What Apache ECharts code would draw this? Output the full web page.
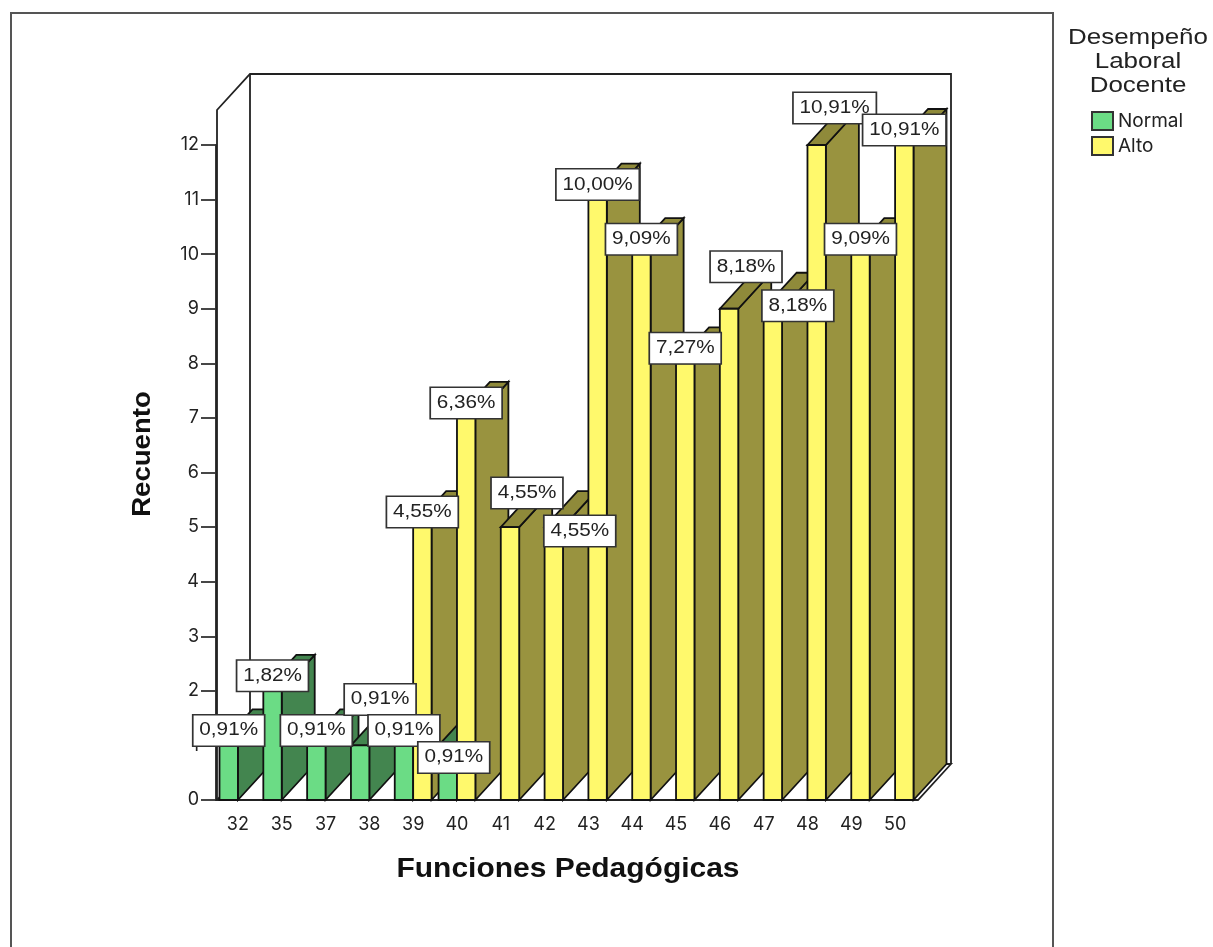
<!DOCTYPE html>
<html>
<head>
<meta charset="utf-8">
<title>Funciones Pedagógicas</title>
<style>
  html, body { margin: 0; padding: 0; background: #fff; }
  #main { width: 1213px; height: 947px; }
</style>
<script src="https://cdn.jsdelivr.net/npm/echarts@6/dist/echarts.min.js"></script>
</head>
<body>
<div id="main"></div>
<script>
const categories = ['32', '35', '37', '38', '39', '40', '41', '42', '43', '44', '45', '46', '47', '48', '49', '50'];
const normalValues = [1, 2, 1, 1, 1, 1, null, null, null, null, null, null, null, null, null, null];
const altoValues = [null, null, null, null, 5, 7, 5, 5, 11, 10, 8, 9, 9, 12, 10, 12];
const normalPct = ['0,91%', '1,82%', '0,91%', '0,91%', '0,91%', '0,91%', '', '', '', '', '', '', '', '', '', ''];
const altoPct = ['', '', '', '', '4,55%', '6,36%', '4,55%', '4,55%', '10,00%', '9,09%', '7,27%', '8,18%', '8,18%', '10,91%', '9,09%', '10,91%'];

// the original moves some labels so they don't collide, [dx, dy] in px
const normalNudge = { 3: [20, -31], 5: [6, 27] };
const altoNudge = { 6: [17, -19], 7: [26, 19], 11: [17, -27], 12: [25, 12], 13: [18, -22] };

const DX = 33, DY = -36;
const FONT = '"Liberation Sans", Arial, sans-serif';
const TICK_FONT = 'Inter, "Liberation Sans", sans-serif';

function barRenderer(seriesPos, pct, nudge, front, side, top) {
  return function (params, api) {
    const i = api.value(0), v = api.value(1);
    const base = api.coord([i, 0]);
    const tip = api.coord([i, v]);
    const w = api.size([1, 0])[0] * 0.42;
    const x0 = seriesPos === 0 ? base[0] - w : base[0];
    const x1 = x0 + w;
    const z = 10 + i * 3 + seriesPos;
    const line = { stroke: '#111', lineWidth: 1.8 };
    const n = nudge[i] || [0, 0];
    return {
      type: 'group',
      children: [
        {
          type: 'polygon', z2: z,
          shape: { points: [[x1, base[1]], [x1 + DX, base[1] + DY], [x1 + DX, tip[1] + DY], [x1, tip[1]]] },
          style: Object.assign({ fill: side }, line)
        },
        {
          type: 'polygon', z2: z,
          shape: { points: [[x0, tip[1]], [x0 + DX, tip[1] + DY], [x1 + DX, tip[1] + DY], [x1, tip[1]]] },
          style: Object.assign({ fill: top }, line)
        },
        {
          type: 'rect', z2: z,
          shape: { x: x0, y: tip[1], width: w, height: base[1] - tip[1] },
          style: Object.assign({ fill: front }, line)
        },
        {
          type: 'text', z2: 500 + i,
          x: (x0 + x1) / 2 + n[0], y: tip[1] - 15 + n[1],
          scaleX: 1.15,
          style: {
            text: pct[i], fill: '#222', font: '18px ' + FONT,
            align: 'center', verticalAlign: 'middle',
            backgroundColor: '#fff', borderColor: '#333', borderWidth: 1.5,
            padding: [6, 5, 6, 5]
          }
        }
      ]
    };
  };
}

function wallRenderer(params, api) {
  const fl = api.coord([0, 0]);
  const h = api.size([1, 0])[0];
  const left = fl[0] - h / 2 + 1;
  const right = left + h * categories.length;
  const floor = fl[1];
  const tick12 = api.coord([0, 12])[1];
  const frontTop = tick12 - 35;
  const backTop = frontTop + DY;
  const s = { stroke: '#222', lineWidth: 1.8, fill: null };
  return {
    type: 'group',
    children: [
      { type: 'polyline', z2: 1, shape: { points: [[left, floor], [left, frontTop], [left + DX, backTop], [right + DX, backTop], [right + DX, floor + DY]] }, style: s },
      { type: 'polyline', z2: 1, shape: { points: [[left + DX, backTop], [left + DX, floor + DY], [right + DX, floor + DY], [right, floor], [left, floor], [left + DX, floor + DY]] }, style: s }
    ]
  };
}

const chart = echarts.init(document.getElementById('main'));
chart.setOption({
  backgroundColor: '#fff',
  animation: false,
  grid: { left: 216, right: 296, top: 145, bottom: 147 },
  legend: {
    data: ['Normal', 'Alto'],
    orient: 'vertical', left: 1086, top: 106,
    itemWidth: 21, itemHeight: 18, itemGap: 5, icon: 'rect',
    selectedMode: false,
    textStyle: { fontFamily: TICK_FONT, fontSize: 19, color: '#222' }
  },
  graphic: [
    { type: 'rect', z: -1, shape: { x: 11, y: 13, width: 1042, height: 960 }, style: { fill: '#fff', stroke: '#555', lineWidth: 2 } },
    {
      type: 'text', x: 1138, y: 26, scaleX: 1.18,
      style: { text: 'Desempeño\nLaboral\nDocente', fill: '#222', font: '22px ' + FONT, align: 'center', lineHeight: 24 }
    },
    {
      type: 'text', x: 568, y: 870, scaleX: 1.11,
      style: { text: 'Funciones Pedagógicas', fill: '#111', font: 'bold 27px ' + FONT, align: 'center', verticalAlign: 'middle' }
    },
    {
      type: 'text', x: 143, y: 454, rotation: Math.PI / 2, scaleX: 1.06,
      style: { text: 'Recuento', fill: '#111', font: 'bold 26px ' + FONT, align: 'center', verticalAlign: 'middle' }
    }
  ],
  xAxis: {
    type: 'category', data: categories,
    axisLine: { lineStyle: { color: '#222', width: 1.8 } },
    axisTick: { alignWithLabel: true, length: 12, lineStyle: { color: '#333', width: 1.8 } },
    axisLabel: { fontFamily: TICK_FONT, fontSize: 18, color: '#222', margin: 16, interval: 0 }
  },
  yAxis: {
    type: 'value', min: 0, max: 12, interval: 1,
    splitLine: { show: false },
    axisLine: { show: true, lineStyle: { color: '#222', width: 1.8 } },
    axisTick: { show: true, length: 15, lineStyle: { color: '#333', width: 1.8 } },
    axisLabel: { fontFamily: TICK_FONT, fontSize: 18, color: '#222', margin: 17 }
  },
  series: [
    {
      name: 'wall', type: 'custom', silent: true, z: 1,
      renderItem: wallRenderer, data: [[0, 0]], encode: { x: 0, y: 1 }
    },
    {
      name: 'Normal', type: 'custom', z: 2,
      itemStyle: { color: '#6bdc85', borderColor: '#333', borderWidth: 1.5 },
      renderItem: barRenderer(0, normalPct, normalNudge, '#6bdc85', '#43854f', '#43854f'),
      data: normalValues.map((v, i) => [i, v]).filter(d => d[1] !== null),
      encode: { x: 0, y: 1 }
    },
    {
      name: 'Alto', type: 'custom', z: 2,
      itemStyle: { color: '#fff96c', borderColor: '#333', borderWidth: 1.5 },
      renderItem: barRenderer(1, altoPct, altoNudge, '#fff96c', '#99933f', '#8f8a3a'),
      data: altoValues.map((v, i) => [i, v]).filter(d => d[1] !== null),
      encode: { x: 0, y: 1 }
    }
  ]
});
</script>
</body>
</html>
